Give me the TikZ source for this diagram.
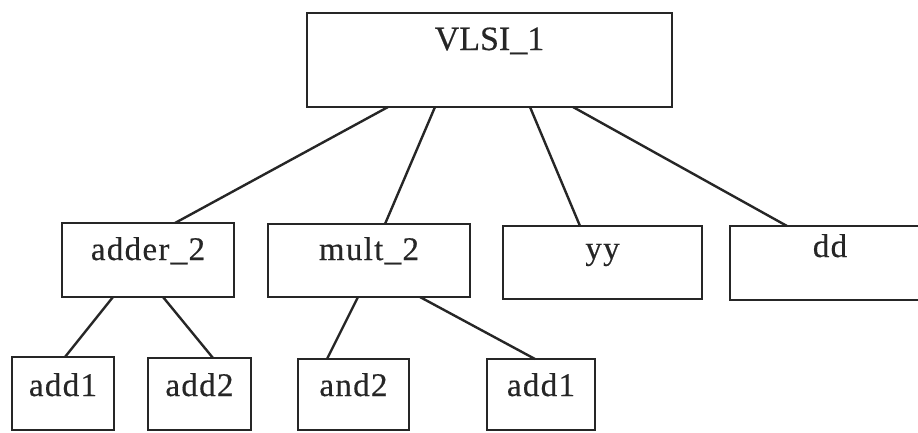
\documentclass[tikz,border=0pt]{standalone}
\usepackage{fontspec}
\setmainfont{Liberation Serif}[FakeBold=0.4]
\newfontfamily\spacedfont[LetterSpace=4,FakeBold=0.4]{Liberation Serif}
\definecolor{ink}{HTML}{262626}
\begin{document}
\begin{tikzpicture}[x=1pt,y=-1pt,line width=2.6pt]
\useasboundingbox (0,0) rectangle (918,432);
\tikzset{
  bx/.style={draw=ink, text=ink, inner sep=0pt, outer sep=0pt, anchor=north west,
    font=\spacedfont\fontsize{33}{35}\selectfont},
  topbx/.style={bx, font=\fontsize{34}{36}\selectfont},
  link/.style={draw=ink, line width=2.4pt}
}
% top
\node[topbx, minimum width=365pt, text height=37pt, text depth=57pt] (V) at (307,13) {VLSI\_1};
% middle row
\node[bx, minimum width=172pt, text height=37pt, text depth=37pt] (A) at (62,223) {adder\_2};
\node[bx, minimum width=202pt, text height=36pt, text depth=37pt] (M) at (268,224) {mult\_2};
\node[bx, minimum width=199pt, text height=33pt, text depth=40pt] (Y) at (503,226) {yy};
\node[bx, minimum width=200pt, text height=31pt, text depth=43pt] (D) at (730,226) {dd};
% bottom row
\node[bx, minimum width=102pt, text height=39pt, text depth=34pt] (A1) at (12,357) {add1};
\node[bx, minimum width=103pt, text height=38pt, text depth=34pt] (A2) at (148,358) {add2};
\node[bx, minimum width=111pt, text height=37pt, text depth=34pt] (N2) at (298,359) {and2};
\node[bx, minimum width=108pt, text height=37pt, text depth=34pt] (B1) at (487,359) {add1};
% connectors
\draw[link] ([xshift=81pt]V.south west) -- ([xshift=113pt]A.north west);
\draw[link] ([xshift=128pt]V.south west) -- ([xshift=117pt]M.north west);
\draw[link] ([xshift=223pt]V.south west) -- ([xshift=77pt]Y.north west);
\draw[link] ([xshift=266pt]V.south west) -- ([xshift=57pt]D.north west);
\draw[link] ([xshift=51pt]A.south west) -- ([xshift=53pt]A1.north west);
\draw[link] ([xshift=101pt]A.south west) -- ([xshift=65pt]A2.north west);
\draw[link] ([xshift=90pt]M.south west) -- ([xshift=29pt]N2.north west);
\draw[link] ([xshift=152pt]M.south west) -- ([xshift=48pt]B1.north west);
\end{tikzpicture}
\end{document}
